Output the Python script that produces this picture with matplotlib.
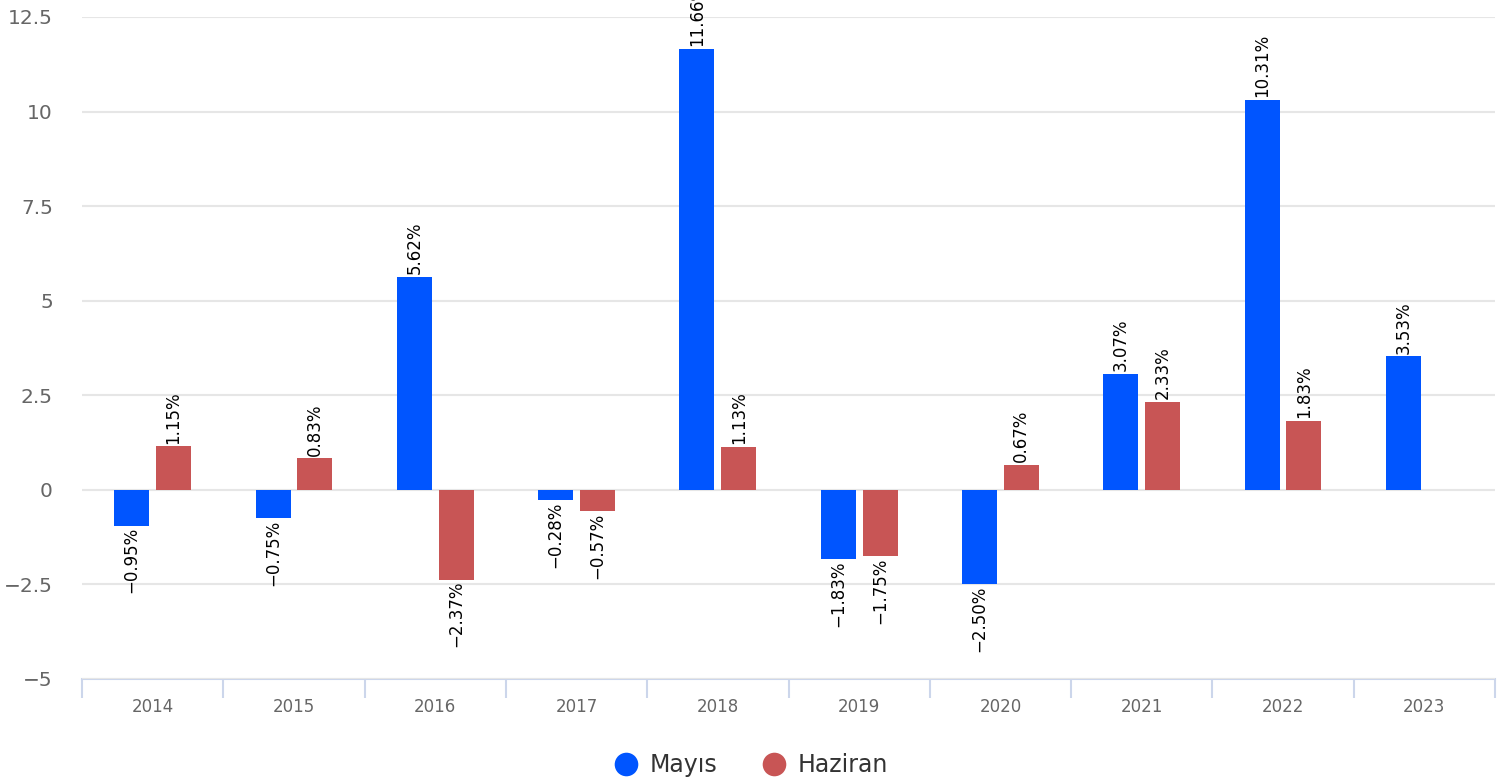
import numpy as np
import matplotlib
matplotlib.use("Agg")
import matplotlib.pyplot as plt
from matplotlib.lines import Line2D

years = ["2014", "2015", "2016", "2017", "2018", "2019", "2020", "2021", "2022", "2023"]
mayis = [-0.95, -0.75, 5.62, -0.28, 11.66, -1.83, -2.50, 3.07, 10.31, 3.53]
haziran = [1.15, 0.83, -2.37, -0.57, 1.13, -1.75, 0.67, 2.33, 1.83, np.nan]

series = [("Mayıs", mayis, "#0055ff"), ("Haziran", haziran, "#c85555")]
yticks = [-5, -2.5, 0, 2.5, 5, 7.5, 10, 12.5]

plt.rcParams["font.family"] = ["DejaVu Sans"]
fig = plt.figure(figsize=(14.99, 7.8), dpi=100)
ax = fig.add_axes([82 / 1499, 1 - 679 / 780, (1495 - 82) / 1499, (679 - 17) / 780])

x = np.arange(len(years))
width = 0.248
offsets = [-0.148, 0.148]


def fmt(v):
    return f"{v:.2f}%".replace("-", "\u2212")


for (name, vals, color), off in zip(series, offsets):
    vals = np.array(vals, dtype=float)
    ax.bar(x + off, vals, width, color=color, zorder=3, label=name)
    for xi, v in zip(x + off, vals):
        if np.isnan(v):
            continue
        pad = 2 if v >= 0 else -1
        ax.annotate(fmt(v), (xi, v), xytext=(0, pad), textcoords="offset points",
                    rotation=90, ha="center", va="bottom" if v >= 0 else "top",
                    fontsize=12, color="#000000", annotation_clip=False, zorder=4)

ax.set_xlim(-0.5, len(years) - 0.5)
ax.set_ylim(-5, 12.5)
ax.set_yticks(yticks)
ax.set_yticklabels([f"{t:g}".replace("-", "\u2212") for t in yticks])
ax.tick_params(axis="y", length=0, pad=21, labelsize=14.5, labelcolor="#666666")

ax.set_xticks(x)
ax.set_xticklabels(years)
ax.tick_params(axis="x", length=0, pad=14, labelsize=12, labelcolor="#666666")
ax.set_xticks(np.arange(len(years) + 1) - 0.5, minor=True)
ax.tick_params(axis="x", which="minor", length=13.5, width=1.5, color="#ccd6eb")

ax.grid(axis="y", color="#e6e6e6", linewidth=1.5, zorder=0)
for s in ["top", "right", "left"]:
    ax.spines[s].set_visible(False)
ax.spines["bottom"].set_color("#ccd6eb")
ax.spines["bottom"].set_linewidth(1.5)
ax.spines["bottom"].set_zorder(1)

handles = [Line2D([], [], marker="o", linestyle="", markersize=17, color=c,
                  markeredgewidth=0) for _, _, c in series]
fig.legend(handles, [n for n, _, _ in series], loc="center",
           bbox_to_anchor=(0.5, 1 - 765 / 780), ncol=2, frameon=False,
           fontsize=17, labelcolor="#333333", handletextpad=0.4,
           columnspacing=1.8, handlelength=1.2)

fig.savefig("out.png", dpi=100)
